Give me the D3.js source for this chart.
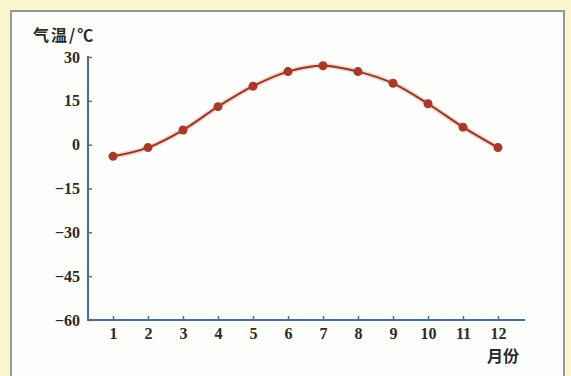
<!DOCTYPE html>
<html><head><meta charset="utf-8">
<script src="https://cdn.jsdelivr.net/npm/d3@7"></script>
<style>
html,body{margin:0;padding:0;background:#fbf6cc;}
svg{display:block;}
</style></head>
<body>
<svg id="c" width="571" height="376"></svg>
<script>
const months = [1,2,3,4,5,6,7,8,9,10,11,12];
const temps = [-4,-1,5,13,20,25,27,25,21,14,6,-1];
const yTicks = [30,15,0,-15,-30,-45,-60];
const yTitle = "气温/℃";
const xTitle = "月份";

const svg = d3.select("#c");
svg.append("rect").attr("x",0).attr("y",0).attr("width",571).attr("height",376).attr("fill","#fbf6cc");
svg.append("rect").attr("x",11).attr("y",11).attr("width",553).attr("height",380)
  .attr("fill","#fefefc").attr("stroke","#8f9c9c").attr("stroke-width",2);

const x = d3.scaleLinear().domain([1,12]).range([113,498]);
const y = d3.scaleLinear().domain([-60,30]).range([320,57]);
const axisColor = "#4b6c98";
const font = "'Liberation Serif','DejaVu Serif',serif";

// y axis
const gy = svg.append("g").attr("transform","translate(88,0)")
  .call(d3.axisLeft(y).tickValues(yTicks).tickSize(-4).tickPadding(8)
    .tickFormat(d => d < 0 ? "\u2212" + Math.abs(d) : d));
gy.select(".domain").remove();
gy.selectAll(".tick line").attr("stroke",axisColor).attr("stroke-width",1.5);
gy.selectAll(".tick text").attr("fill","#2a2a2a").style("font-family",font).style("font-size","16px").style("font-weight","bold");
svg.append("line").attr("x1",88).attr("x2",88).attr("y1",y(30)-1).attr("y2",321)
  .attr("stroke",axisColor).attr("stroke-width",2);

// x axis
const gx = svg.append("g").attr("transform","translate(0,320)")
  .call(d3.axisBottom(x).tickValues(months).tickSize(-4).tickPadding(8).tickFormat(d3.format("d")));
gx.select(".domain").remove();
gx.selectAll(".tick line").attr("stroke",axisColor).attr("stroke-width",1.5);
gx.selectAll(".tick text").attr("fill","#2a2a2a").style("font-family",font).style("font-size","16px").style("font-weight","bold");
svg.append("line").attr("x1",87).attr("x2",525).attr("y1",320).attr("y2",320)
  .attr("stroke",axisColor).attr("stroke-width",2);

// titles
svg.append("text").attr("x",33).attr("y",41).text(yTitle)
  .attr("fill","#2a2a2a").style("font-family","'Noto Sans CJK SC',serif").style("font-size","16px")
  .style("font-weight","bold").style("letter-spacing","2px");
svg.append("text").attr("x",487).attr("y",362).text(xTitle)
  .attr("fill","#2a2a2a").style("font-family","'Noto Sans CJK SC',serif").style("font-size","16px").style("font-weight","bold");

// line
const data = months.map((m,i)=>({m, t:temps[i]}));
const line = d3.line().x(d=>x(d.m)).y(d=>y(d.t)).curve(d3.curveCatmullRom);
svg.append("path").datum(data).attr("d",line).attr("fill","none")
  .attr("stroke","#f0a890").attr("stroke-width",5).attr("stroke-opacity",0.5);
svg.append("path").datum(data).attr("d",line).attr("fill","none")
  .attr("stroke","#8e3a2a").attr("stroke-width",2);
svg.selectAll("circle.pt").data(data).join("circle").attr("class","pt")
  .attr("cx",d=>x(d.m)).attr("cy",d=>y(d.t)).attr("r",4.5).attr("fill","#a8392a");
</script>
</body></html>
